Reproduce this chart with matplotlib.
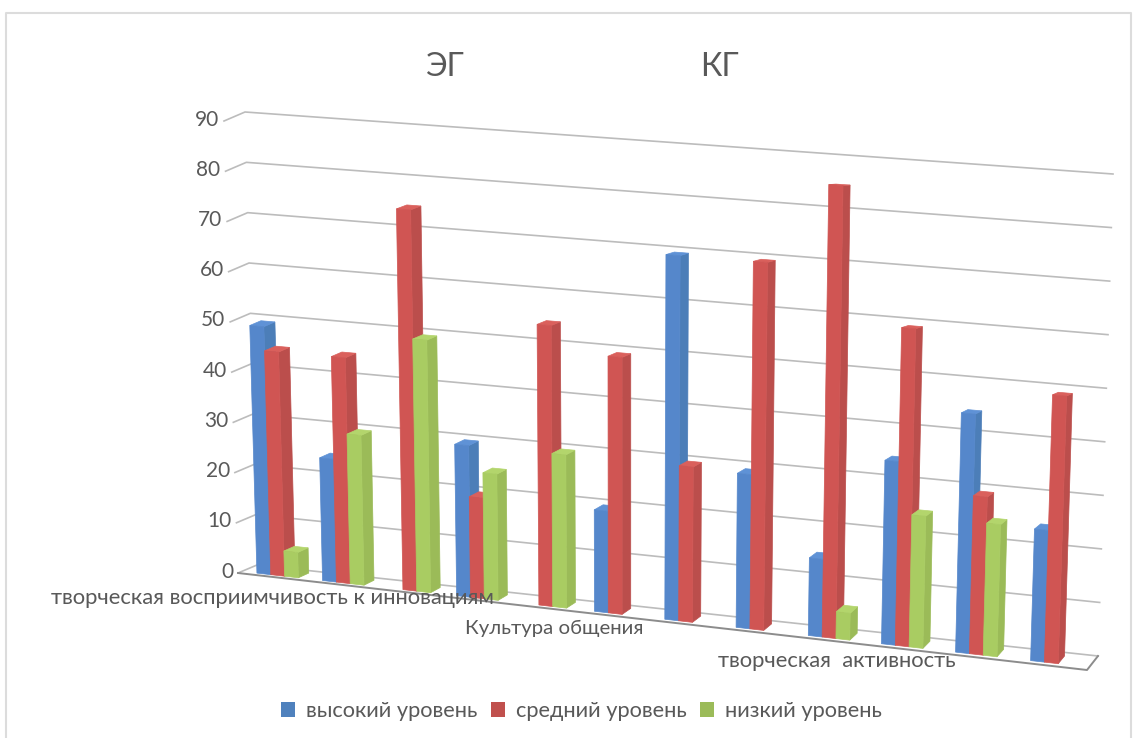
import matplotlib
matplotlib.use('Agg')
import matplotlib.pyplot as plt
from matplotlib.patches import Patch, Polygon
import numpy as np

plt.rcParams['font.family'] = ['Lato', 'Open Sans', 'DejaVu Sans']

categories = ['творческая восприимчивость к инновациям', '', '', '',
              'Культура общения', '', '', '',
              'творческая  активность', '', '', '']
high = [49.2, 24.2, 0, 29.4, 0, 19.4, 69.2, 29, 14.5, 34, 44, 24]
medium = [44.4, 44.4, 74.4, 19.5, 54, 49, 29.4, 69.1, 84.4, 58.8, 29, 48.7]
low = [5, 29.4, 49.2, 24.4, 29.4, 0, 0, 0, 5, 24.4, 24.2, 0]
series_names = ['высокий уровень', 'средний уровень', 'низкий уровень']
value_ticks = [0, 10, 20, 30, 40, 50, 60, 70, 80, 90]
group_titles = ['ЭГ', 'КГ']
label_sizes = {0: 15.8, 4: 14.7, 8: 15.8}
label_shift = {0: -1, 4: 12, 8: 10}

# box corners in pixels: (depth, side, value)
FL0, FL90 = np.array([238, 573.]), np.array([224, 121.])
FR0, FR90 = np.array([1087, 670.]), np.array([1104, 170.])
BL0, BL90 = np.array([257, 565.]), np.array([245, 112.])
BR0, BR90 = np.array([1098, 656.]), np.array([1113, 174.])

TEXT = '#595959'
GRID = '#bcbcbc'
DEPTH_FRONT, DEPTH_BACK = 0.2, 0.76
BAR_W = 0.0163
# front, side, top
COLORS = [('#5587cb', '#4c7eb8', '#5f92d6'),
          ('#d05553', '#bb4e4c', '#da605c'),
          ('#a9cc62', '#9bbb58', '#b3d56c')]
LEGEND_COLORS = ['#4f81bd', '#c0504d', '#9bbb59']


def project(t, d, v):
    # t along the floor, d into the picture, v the value axis
    w = v / 90
    left = (1 - d) * (FL0 + (FL90 - FL0) * w) + d * (BL0 + (BL90 - BL0) * w)
    right = (1 - d) * (FR0 + (FR90 - FR0) * w) + d * (BR0 + (BR90 - BR0) * w)
    return left + (right - left) * t


def group_pos(i):
    s = (i + 0.5) / len(categories)
    return s + 0.08 * s * (s - 1) + 0.004 * (1 - s)


def draw_bar(ax, t0, t1, v, cols):
    d0, d1 = DEPTH_FRONT, DEPTH_BACK
    side = [project(t1, d0, 0), project(t1, d1, 0), project(t1, d1, v), project(t1, d0, v)]
    top = [project(t0, d0, v), project(t1, d0, v), project(t1, d1, v), project(t0, d1, v)]
    front = [project(t0, d0, 0), project(t1, d0, 0), project(t1, d0, v), project(t0, d0, v)]
    for pts, c in zip((side, top, front), (cols[1], cols[2], cols[0])):
        ax.add_patch(Polygon(pts, closed=True, facecolor=c, edgecolor=c, linewidth=0.5, zorder=3))


fig = plt.figure(figsize=(11.44, 7.38), dpi=100)
ax = fig.add_axes([0, 0, 1, 1])
ax.set_xlim(0, 1144)
ax.set_ylim(738, 0)
ax.axis('off')

# outer chart frame
ax.plot([6, 6, 1131, 1131], [738, 13, 13, 738], color='#dcdcdc', lw=1.5, zorder=1)

# gridlines on the walls
for v in value_ticks:
    pts = np.array([project(0, 0, v), project(0, 1, v), project(1, 1, v)])
    ax.plot(pts[:, 0], pts[:, 1], color=GRID, lw=1.2, zorder=2)
    x, y = project(0, 0, v)
    ax.text(x - 5, y - 1.5, str(v), ha='right', va='center', fontsize=15, color=TEXT, zorder=5)

# floor edge
floor = np.array([project(0, 0, 0), project(1, 0, 0), project(1, 1, 0)])
ax.plot(floor[:, 0], floor[:, 1], color='#8c8c8c', lw=1.4, zorder=2)

for i, values in enumerate(zip(high, medium, low)):
    start = group_pos(i) - 1.5 * BAR_W
    for k, v in enumerate(values):
        if v > 0:
            draw_bar(ax, start + k * BAR_W, start + (k + 1) * BAR_W, v, COLORS[k])

for i, label in enumerate(categories):
    if label:
        x, y = project(group_pos(i), 0, 0)
        ax.text(x + label_shift[i], y + 20.5, label, ha='center', va='center',
                fontsize=label_sizes[i], color=TEXT, zorder=6)

for title, x in zip(group_titles, [444, 719]):
    ax.text(x, 67, title, ha='center', va='center', fontsize=23, color=TEXT, zorder=6)

handles = [Patch(facecolor=c, edgecolor='none', label=n) for c, n in zip(LEGEND_COLORS, series_names)]
ax.legend(handles=handles, loc='center', bbox_to_anchor=(581.5 / 1144, 1 - 711 / 738), ncol=3,
          frameon=False, fontsize=15.7, labelcolor=TEXT, handlelength=0.65, handleheight=0.65,
          handletextpad=0.5, columnspacing=0.6, borderpad=0)

fig.savefig('out.png', dpi=100)
